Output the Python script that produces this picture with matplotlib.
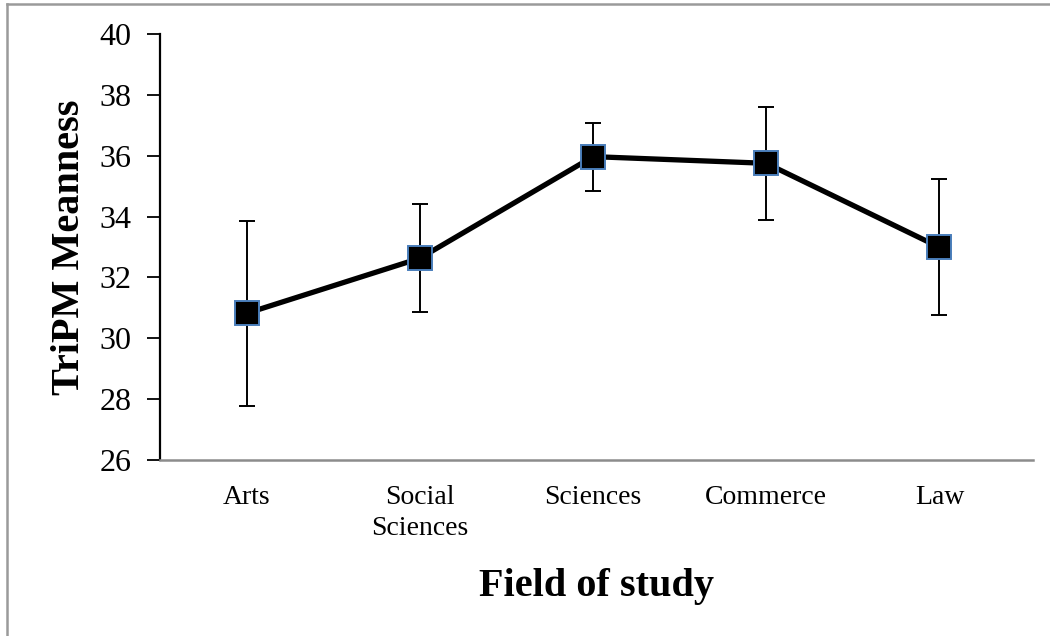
#TriPM meanness by field of study
#line plot with error bars

import matplotlib.pyplot as plt
from matplotlib.lines import Line2D

#the data. means and +/- error for each field
fields = ["Arts", "Social\nSciences", "Sciences", "Commerce", "Law"]
meanness = [30.82, 32.63, 35.97, 35.75, 32.99]
errors = [3.04, 1.77, 1.12, 1.85, 2.24]
yTicks = [26, 28, 30, 32, 34, 36, 38, 40]

plt.rcParams['font.family'] = ['Liberation Serif', 'DejaVu Serif']

fig = plt.figure(figsize=(10.5, 6.36), dpi=100)
ax = fig.add_axes([160/1050, 1 - 460/636, (1033 - 160)/1050, (460 - 34)/636])

xs = list(range(len(fields)))

#error bars first so the line and markers sit on top
ax.errorbar(xs, meanness, yerr=errors, fmt='none', ecolor='black',
            elinewidth=1.4, capsize=5.5, capthick=1.4, zorder=2)
ax.plot(xs, meanness, color='black', linewidth=3.8, marker='s',
        markersize=17, markerfacecolor='black', markeredgecolor='#4a7ebb',
        markeredgewidth=1.4, zorder=3)

ax.set_xlim(-0.5, 4.54)
ax.set_ylim(26, 40)
ax.set_yticks(yTicks)
ax.set_xticks(xs)
ax.set_xticklabels(fields, fontsize=20, linespacing=1.3)
ax.tick_params(axis='y', labelsize=23, direction='out', length=9.5,
               width=1.3, pad=11, color='black')
ax.tick_params(axis='x', length=0, pad=18)

for side in ['top', 'right']:
    ax.spines[side].set_visible(False)
ax.spines['left'].set_color('black')
ax.spines['left'].set_linewidth(1.6)
ax.spines['bottom'].set_color('#8c8c8c')
ax.spines['bottom'].set_linewidth(1.8)

ax.set_xlabel("Field of study", fontsize=29, fontweight='bold', labelpad=20)
ax.set_ylabel("TriPM Meanness", fontsize=29, fontweight='bold', labelpad=8)

#grey frame on the top and left of the figure
fig.add_artist(Line2D([7/1050, 1], [1 - 4/636, 1 - 4/636], color='#9a9a9a',
                      linewidth=1.8, transform=fig.transFigure))
fig.add_artist(Line2D([7/1050, 7/1050], [0, 1 - 4/636], color='#9a9a9a',
                      linewidth=1.8, transform=fig.transFigure))

fig.savefig("out.png", dpi=100)
